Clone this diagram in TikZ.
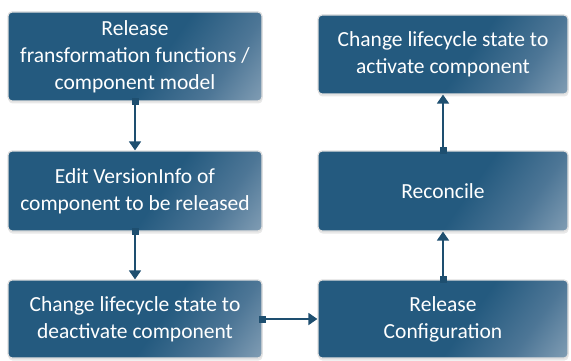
\documentclass[tikz,border=0pt]{standalone}
\usepackage{fontspec}
\setmainfont{Carlito}
\usetikzlibrary{arrows.meta,shadows}
\definecolor{bdark}{HTML}{245A7F}
\definecolor{bmid}{HTML}{4D7696}
\definecolor{blight}{HTML}{BFCCD8}
\definecolor{conn}{HTML}{1E4F70}
\pgfdeclarehorizontalshading{boxsh}{100bp}{color(0bp)=(bdark); color(56bp)=(bdark); color(72bp)=(bmid); color(100bp)=(blight)}
\tikzset{
  box/.style={rounded corners=4pt, draw=gray!25, line width=1.2pt,
    shading=boxsh, shading angle=-35,
    drop shadow={shadow xshift=0.5pt, shadow yshift=-2.5pt, opacity=0.18, fill=gray},
    text=white, align=center, inner sep=0pt,
    font=\fontsize{21.5}{27}\selectfont},
  conn/.style={draw=conn, line width=1.8pt,
    {Square[length=7pt,width=7pt]}-{Triangle[length=9pt,width=12pt]},
    shorten <=-3.5pt}
}
\begin{document}
\begin{tikzpicture}[x=1pt,y=-1pt]
\useasboundingbox (0,0) rectangle (571,361);
\node[box, minimum width=254pt, minimum height=89pt] (b1) at (135,56.5) {Release\\fransformation functions /\\component model};
\node[box, minimum width=254pt, minimum height=80pt] (b2) at (135,191) {Edit VersionInfo of\\component to be released};
\node[box, minimum width=254pt, minimum height=78pt] (b3) at (135,319) {Change lifecycle state to\\deactivate component};
\node[box, minimum width=250pt, minimum height=79pt] (b4) at (443,54.5) {Change lifecycle state to\\activate component};
\node[box, minimum width=250pt, minimum height=80pt] (b5) at (443,191) {Reconcile};
\node[box, minimum width=250pt, minimum height=78pt] (b6) at (443,319) {Release\\Configuration};
\draw[conn] (b1.south) -- (b2.north);
\draw[conn] (b2.south) -- (b3.north);
\draw[conn] (b3.east) -- (b6.west);
\draw[conn] (b6.north) -- (b5.south);
\draw[conn] (b5.north) -- (b4.south);
\end{tikzpicture}
\end{document}
